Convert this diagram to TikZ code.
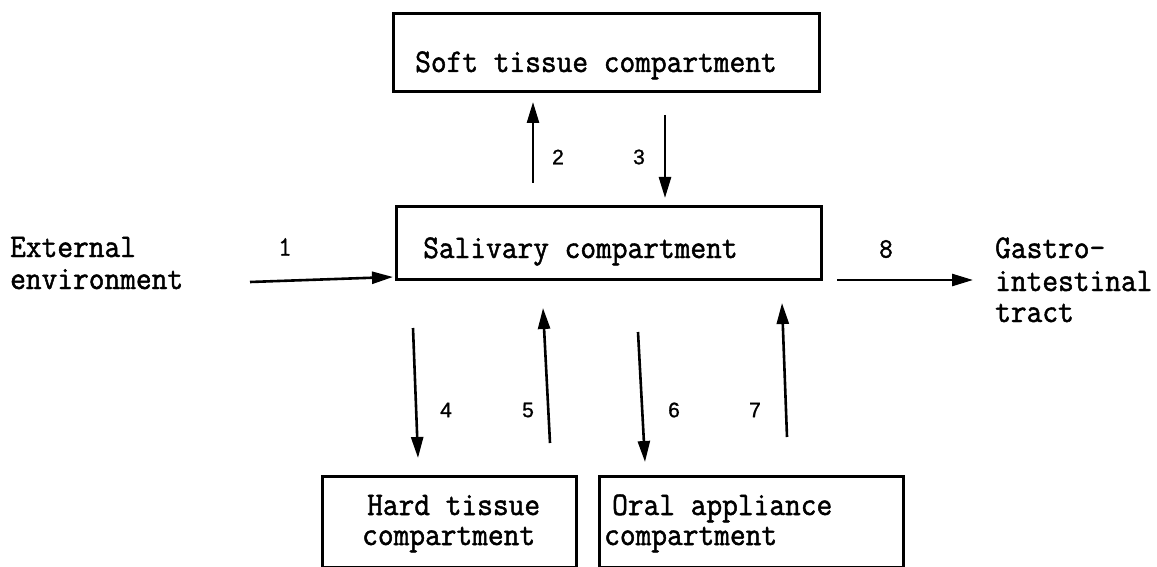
\documentclass[tikz,border=0pt]{standalone}
\usepackage{fontspec}
\usetikzlibrary{arrows.meta}
\newfontfamily\tw{Latin Modern Mono}[FakeStretch=0.925,FakeBold=1.5]
\newfontfamily\lab{Liberation Sans}[FakeBold=1]
\begin{document}
\begin{tikzpicture}[x=1pt,y=-1pt,
  box/.style={draw, line width=2.6pt, inner sep=0pt, anchor=north west},
  txt/.style={anchor=base west, inner sep=0pt, font=\tw\fontsize{33}{30}\selectfont},
  num/.style={inner sep=0pt, font=\lab\fontsize{21}{22}\selectfont},
  tnum/.style={inner sep=0pt, font=\tw\fontsize{28}{30}\selectfont},
  flow/.style={line width=2.6pt, -{Triangle[length=21pt,width=12pt]}}]
\useasboundingbox (0,0) rectangle (1157,567);
% boxes
\node[box, minimum width=426pt, minimum height=78pt] (soft) at (392,12) {};
\node[box, minimum width=425pt, minimum height=73pt] (sal) at (395,205) {};
\node[box, minimum width=254pt, minimum height=91pt] (hard) at (321,475) {};
\node[box, minimum width=304pt, minimum height=91pt] (oral) at (598,475) {};
% texts
\node[txt] (softt) at (415,72) {Soft tissue compartment};
\node[txt] (salt) at (423,258) {Salivary compartment};
\node[txt] (ext1) at (10,257) {External};
\node[txt] (ext2) at (10,289) {environment};
\node[txt] (git1) at (995,258) {Gastro-};
\node[txt] (git2) at (995,291) {intestinal};
\node[txt] (git3) at (995,322) {tract};
\node[txt] (hard1) at (367,515) {Hard tissue};
\node[txt] (hard2) at (362,545) {compartment};
\node[txt] (oral1) at (612,515) {Oral appliance};
\node[txt] (oral2) at (604,545) {compartment};
% arrow ends
\coordinate (a1s) at (250,282); \coordinate (a1e) at (393,277);
\coordinate (a2s) at (533,183); \coordinate (a2e) at (533,102);
\coordinate (a3s) at (665,115); \coordinate (a3e) at (665,198);
\coordinate (a4s) at (413,328); \coordinate (a4e) at (418,458);
\coordinate (a5s) at (550,443); \coordinate (a5e) at (543,308);
\coordinate (a6s) at (638,332); \coordinate (a6e) at (645,462);
\coordinate (a7s) at (787,437); \coordinate (a7e) at (782,303);
\coordinate (a8s) at (837,280); \coordinate (a8e) at (973,280);
\foreach \i in {1,...,8} {\draw[flow] (a\i s) -- (a\i e);}
% labels
\node[tnum] (l1) at (285,247) {1};
\node[num] (l2) at (558,157) {2};
\node[num] (l3) at (639,157) {3};
\node[num] (l4) at (446,410) {4};
\node[num] (l5) at (528,410) {5};
\node[num] (l6) at (674,410) {6};
\node[num] (l7) at (755,410) {7};
\node[tnum] (l8) at (886,249) {8};
\end{tikzpicture}
\end{document}
